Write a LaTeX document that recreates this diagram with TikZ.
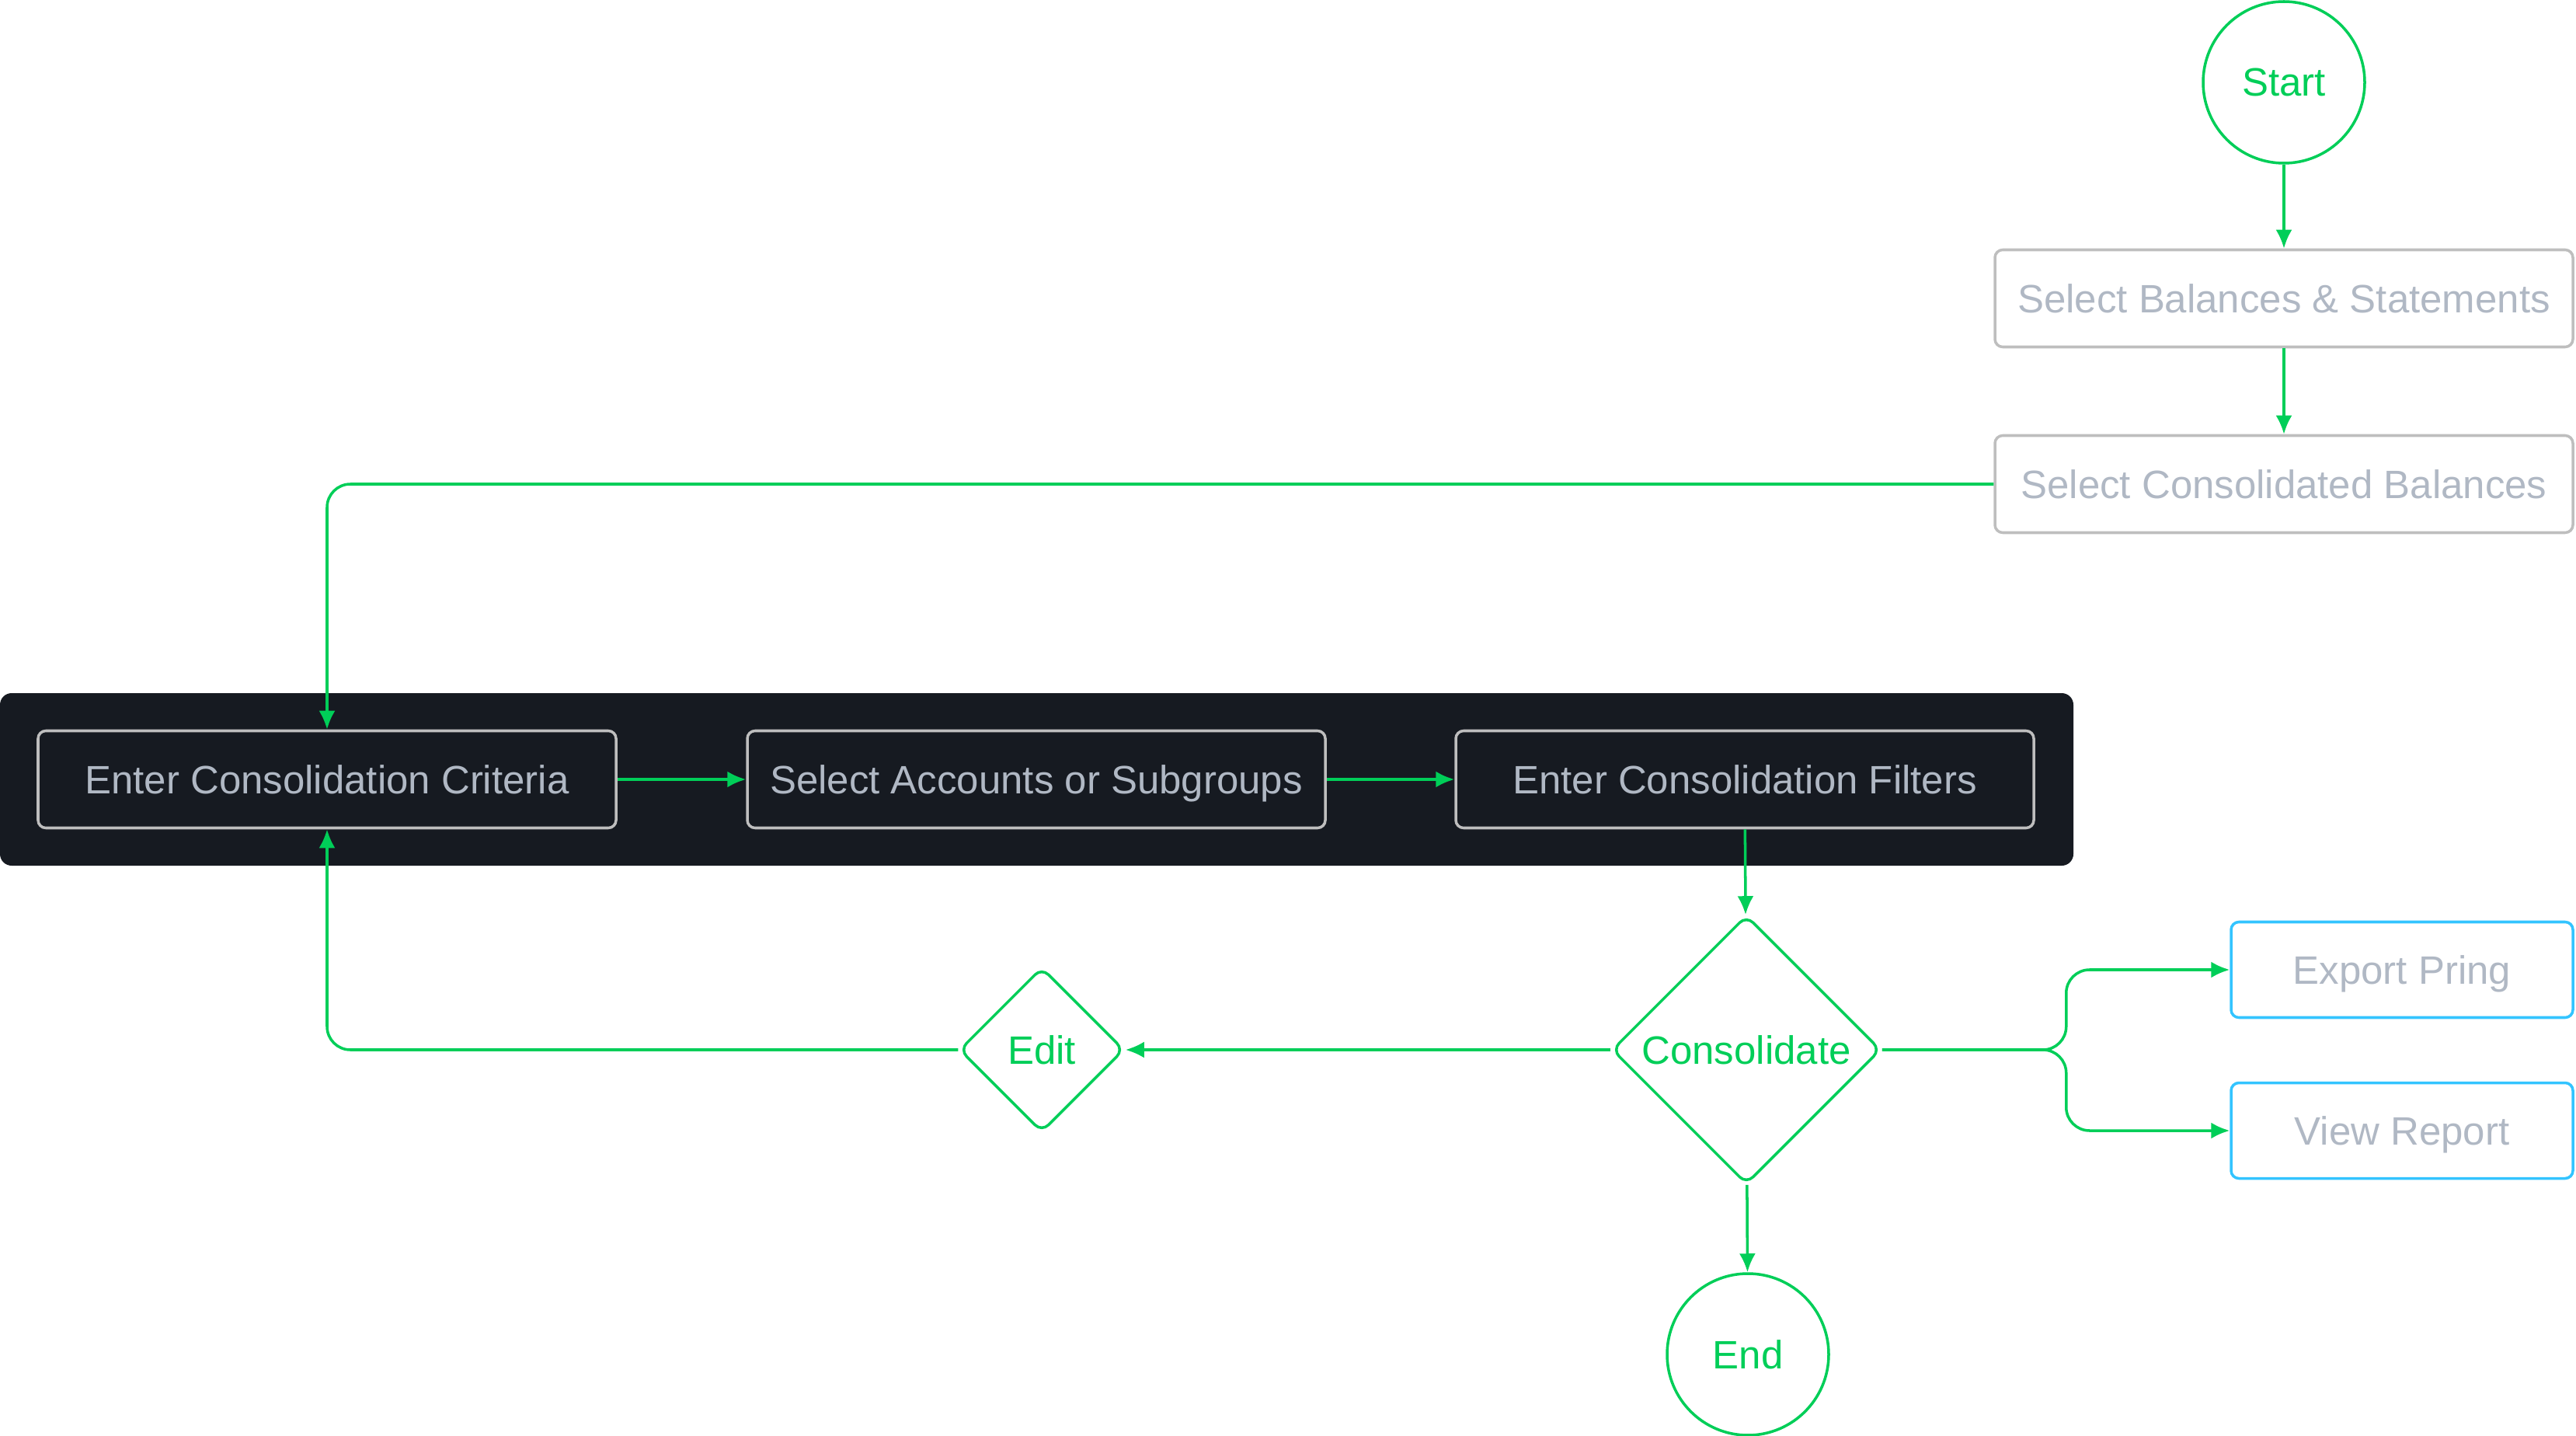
\documentclass[tikz,border=0pt]{standalone}
\usepackage{fontspec}
\setmainfont{Liberation Sans}
\usepackage{tikz}
\usetikzlibrary{arrows.meta, shapes.geometric}
\definecolor{flowgreen}{RGB}{0,206,88}
\definecolor{boxgray}{RGB}{190,190,190}
\definecolor{textgray}{RGB}{176,184,196}
\definecolor{panel}{RGB}{22,26,33}
\definecolor{skyblue}{RGB}{51,196,255}
\tikzset{
  flow/.style={draw=flowgreen, line width=1pt, rounded corners=0.3cm,
    -{Latex[length=0.24cm, width=0.21cm]}},
  terminal/.style={draw=flowgreen, circle, line width=1pt, minimum size=2.08cm,
    inner sep=0pt, text=flowgreen, font=\fontsize{14.5}{17}\selectfont},
  decision/.style={draw=flowgreen, diamond, aspect=1, line width=1pt, rounded corners=0.12cm,
    inner sep=0pt, text=flowgreen, font=\fontsize{14.5}{17}\selectfont},
  stepbox/.style={draw=boxgray, rectangle, rounded corners=0.1cm, line width=1pt,
    minimum width=7.44cm, minimum height=1.25cm, text height=10.4pt, text depth=0pt,
    text=textgray, font=\fontsize{14.5}{17}\selectfont},
  outbox/.style={stepbox, draw=skyblue, minimum width=4.4cm, minimum height=1.23cm}
}

\begin{document}
\begin{tikzpicture}

\useasboundingbox (0,0) rectangle (33.16,-18.48);

% dark panel behind the three inputs
\fill[panel, rounded corners=0.15cm] (0,-8.92) rectangle (26.69,-11.14);

\node[terminal] (start) at (29.40,-1.06) {Start};
\node[stepbox] (sbal) at (29.40,-3.84) {Select Balances \& Statements};
\node[stepbox] (cbal) at (29.40,-6.23) {Select Consolidated Balances};

\node[stepbox] (crit) at (4.21,-10.03) {Enter Consolidation Criteria};
\node[stepbox] (acct) at (13.34,-10.03) {Select Accounts or Subgroups};
\node[stepbox] (filt) at (22.46,-10.03) {Enter Consolidation Filters};

\node[decision, minimum size=3.46cm] (cons) at (22.48,-13.51) {Consolidate};
\node[decision, minimum size=2.12cm] (edit) at (13.41,-13.51) {Edit};
\node[terminal] (end) at (22.50,-17.43) {End};

\node[outbox] (exp) at (30.92,-12.48) {Export Pring};
\node[outbox] (view) at (30.92,-14.55) {View Report};

\draw[flow] (start) -- (sbal);
\draw[flow] (sbal) -- (cbal);
\draw[flow] (cbal.west) -| (crit.north);
\draw[flow] (crit) -- (acct);
\draw[flow] (acct) -- (filt);
\draw[flow] (filt) -- (cons);
\draw[flow] (cons) -- (edit);
\draw[flow] (edit.west) -| (crit.south);
\draw[flow] (cons) -- (end);
\draw[flow] (cons.east) -- ++(2.37,0) |- (exp.west);
\draw[flow] (cons.east) -- ++(2.37,0) |- (view.west);

\end{tikzpicture}
\end{document}
